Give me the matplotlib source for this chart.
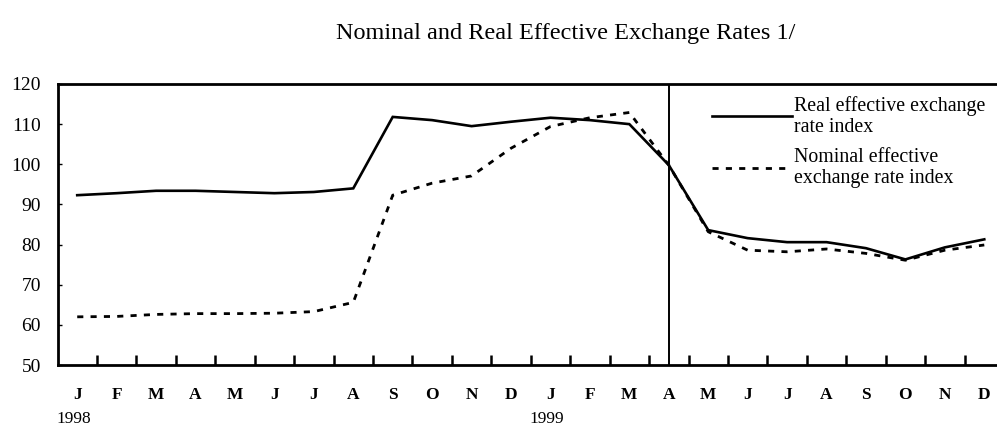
import numpy as np
import matplotlib
matplotlib.use("Agg")
import matplotlib.pyplot as plt
from matplotlib.ticker import FixedLocator
import matplotlib.transforms as mtransforms

plt.rcParams['font.family'] = ['Liberation Serif', 'DejaVu Serif']

months = ['J', 'F', 'M', 'A', 'M', 'J', 'J', 'A', 'S', 'O', 'N', 'D',
          'J', 'F', 'M', 'A', 'M', 'J', 'J', 'A', 'S', 'O', 'N', 'D']
years = ['1998', '1999']
year_start = [0, 12]

real_eer = [92.3, 92.8, 93.4, 93.4, 93.1, 92.8, 93.1, 94.0,
            111.8, 111.0, 109.5, 110.6, 111.6, 111.0, 110.0, 99.8,
            83.6, 81.6, 80.6, 80.6, 79.1, 76.3, 79.3, 81.3]
nominal_eer = [62.0, 62.1, 62.6, 62.8, 62.8, 62.9, 63.3, 65.6,
               92.3, 95.3, 97.1, 104.0, 109.4, 111.6, 112.9, 99.8,
               83.2, 78.6, 78.2, 78.9, 77.8, 76.1, 78.6, 79.9]
base_month = 15

x = np.arange(len(months))

fig = plt.figure(figsize=(9.97, 4.33), dpi=100)
ax = fig.add_axes([57.5 / 997, 1 - 365 / 433, (1004 - 57.5) / 997, (365 - 84) / 433])

ax.plot(x, real_eer, color='black', lw=1.9, solid_joinstyle='miter',
        label='Real effective exchange\nrate index')
ax.plot(x, nominal_eer, color='black', lw=2.0, linestyle=(0, (2.2, 2.6)),
        label='Nominal effective\nexchange rate index')
ax.axvline(base_month, color='black', lw=1.4)

ax.set_xlim(-0.5, 23.5)
ax.set_ylim(50, 120)
ax.set_yticks(np.arange(50, 121, 10))
ax.tick_params(axis='y', direction='in', length=3, width=1, labelsize=14, pad=12)

ax.set_xticks(x)
ax.set_xticklabels(months, fontsize=12.5, fontweight='bold')
ax.xaxis.set_minor_locator(FixedLocator(x[:-1] + 0.5))
ax.tick_params(axis='x', which='major', length=0, pad=16)
ax.tick_params(axis='x', which='minor', direction='in', length=7, width=1.8)

trans = mtransforms.blended_transform_factory(ax.transData, fig.transFigure)
for yr, pos in zip(years, year_start):
    ax.text(pos - 0.1, 1 - 419 / 433, yr, transform=trans, ha='center',
            va='center', fontsize=12.5)

for s in ['top', 'left', 'bottom']:
    ax.spines[s].set_linewidth(2.0)
ax.spines['right'].set_visible(False)

leg = ax.legend(loc='upper left', bbox_to_anchor=(0.679, 1.0), frameon=False,
                fontsize=14.3, handlelength=4.0, handletextpad=0.1,
                labelspacing=0.55, borderaxespad=0.2)
for t in leg.get_texts():
    t.set_linespacing(1.15)

fig.text(566 / 997, 1 - 33 / 433, 'Nominal and Real Effective Exchange Rates 1/',
         ha='center', va='center', fontsize=17.5)

fig.savefig('out.png', dpi=100)
